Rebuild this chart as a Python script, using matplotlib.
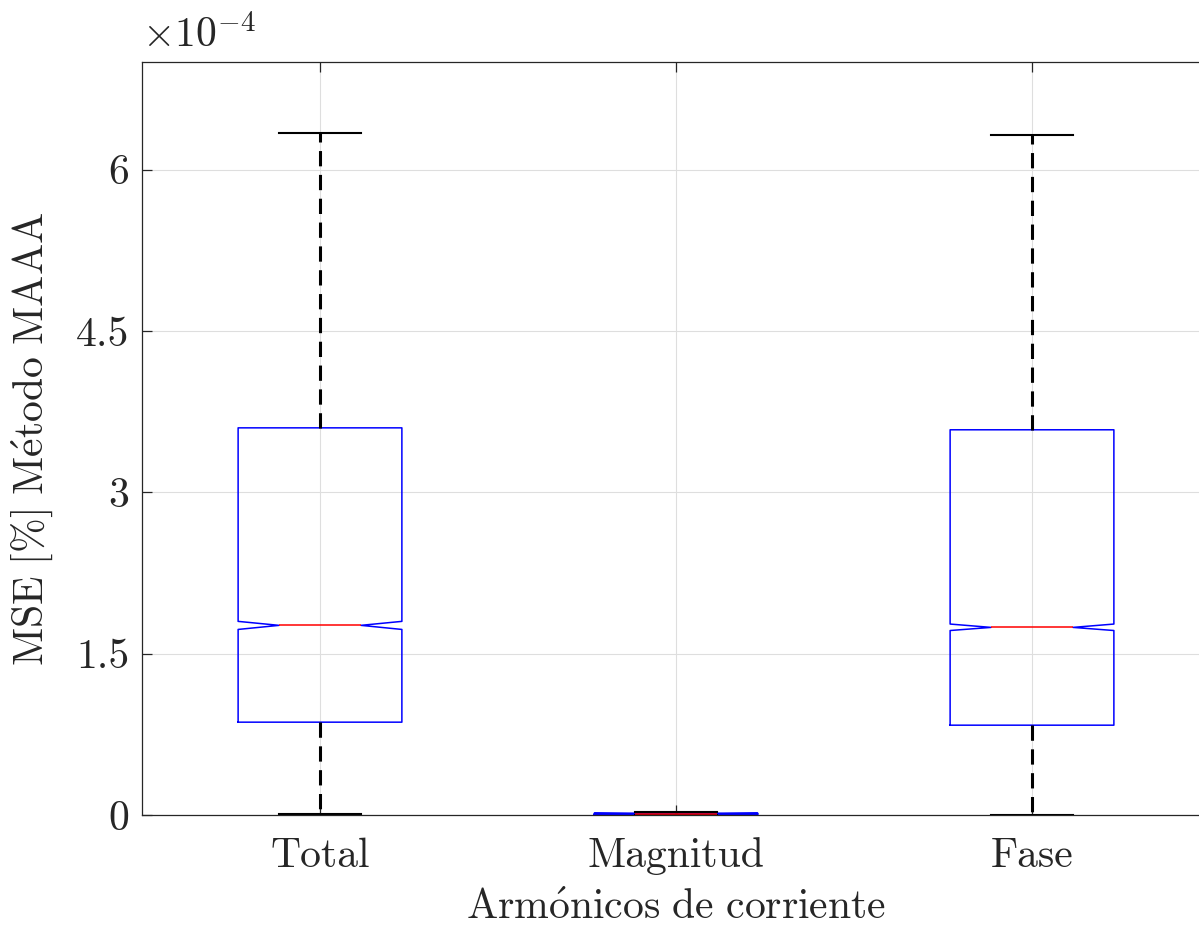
import matplotlib
matplotlib.use('Agg')
import matplotlib.pyplot as plt
from matplotlib.ticker import FixedLocator, FuncFormatter

# ── 0. 全局设置 ────────────────────────────────────────────────
plt.rcParams['font.family'] = ['cmr10', 'DejaVu Serif']
plt.rcParams['mathtext.fontset'] = 'cm'
plt.rcParams['axes.unicode_minus'] = False
plt.rcParams['axes.formatter.use_mathtext'] = True

# ── 1. 数据（MSE, 单位 1） ────────────────────────────────────
categories = ['Total', 'Magnitud', 'Fase']
q1 = [0.863e-4, 0.000e-4, 0.835e-4]
med = [1.763e-4, 0.012e-4, 1.744e-4]
q3 = [3.599e-4, 0.016e-4, 3.581e-4]
whislo = [0.01e-4, 0.0e-4, 0.0e-4]
whishi = [6.336e-4, 0.03e-4, 6.317e-4]
cilo = [1.725e-4, 0.008e-4, 1.715e-4]
cihi = [1.800e-4, 0.016e-4, 1.775e-4]
yticks = [0, 1.5e-4, 3e-4, 4.5e-4, 6e-4]

stats = []
for i, name in enumerate(categories):
    stats.append(dict(label=name, med=med[i], q1=q1[i], q3=q3[i],
                      whislo=whislo[i], whishi=whishi[i],
                      cilo=cilo[i], cihi=cihi[i], fliers=[]))

FS = 30

# ── 2. 绘图 ────────────────────────────────────────────────────
fig = plt.figure(figsize=(11.99, 9.25), dpi=100)
ax = fig.add_axes([142 / 1199, 110 / 925, 1068 / 1199, 753 / 925])

ax.bxp(stats, positions=[1, 2, 3], widths=0.46, shownotches=True,
       showfliers=False, capwidths=0.23,
       boxprops=dict(color='#0000ff', linewidth=1.1),
       whiskerprops=dict(color='black', linewidth=2.2, linestyle=(0, (5, 2.8))),
       capprops=dict(color='black', linewidth=1.5),
       medianprops=dict(color='#ff0000', linewidth=1.1))

ax.set_xlim(0.5, 3.5)
ax.set_ylim(0, 7e-4)
ax.yaxis.set_major_locator(FixedLocator(yticks))
ax.yaxis.set_major_formatter(FuncFormatter(lambda v, p: '%g' % round(v * 1e4, 3)))
ax.set_xticks([1, 2, 3])
ax.set_xticklabels(categories)

ax.grid(True, color='0.87', linewidth=0.8)
ax.set_axisbelow(True)
for s in ax.spines.values():
    s.set_color('0.15')
    s.set_linewidth(0.9)
ax.tick_params(direction='in', length=7, width=0.9, color='0.15',
               labelsize=FS, labelcolor='0.15', top=True, right=True)
ax.tick_params(axis='y', pad=9)
ax.tick_params(axis='x', pad=16)

ax.set_xlabel(r'$\mathrm{Arm\acute{o}nicos\ de\ corriente}$', fontsize=FS,
              color='0.15', labelpad=10)
ax.set_ylabel(r'$\mathrm{MSE\ [\%]\ M\acute{e}todo\ MAAA}$', fontsize=FS,
              color='0.15', labelpad=15)
ax.text(0.0, 1.008, r'$\times 10^{-4}$', transform=ax.transAxes,
        fontsize=FS, color='0.15', ha='left', va='bottom')

fig.savefig('out.png', dpi=100)
